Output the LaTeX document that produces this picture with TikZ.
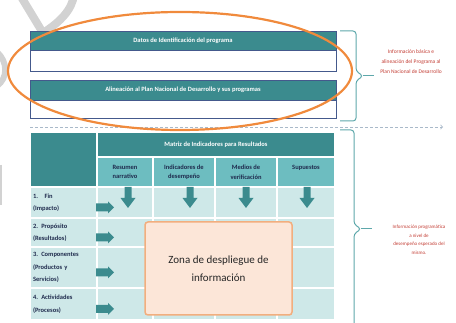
\documentclass[tikz,border=0pt]{standalone}
\usepackage{fontspec}
\setmainfont{Carlito}
\definecolor{tealdark}{HTML}{3B8B8E}
\definecolor{tealmid}{HTML}{6DBDC0}
\definecolor{teallight}{HTML}{CEE8E8}
\definecolor{navyline}{HTML}{44598C}
\definecolor{inktext}{HTML}{1F2B4D}
\definecolor{ringorange}{HTML}{F08A3C}
\definecolor{zonefill}{HTML}{FCE6D8}
\definecolor{zoneline}{HTML}{F2AE7E}
\definecolor{notered}{HTML}{C23B32}
\definecolor{bracecol}{HTML}{5EA8AB}
\definecolor{sepline}{HTML}{A9B9C9}
\definecolor{wmark}{HTML}{D2D2D2}

\begin{document}
\begin{tikzpicture}[x=1pt, y=-1pt,
    box/.style={anchor=north west, inner sep=0pt, outer sep=0pt},
    titlebar/.style={box, fill=tealdark, draw=navyline, line width=0.8pt, text=white, font=\bfseries\fontsize{6.5}{8}\selectfont},
    blank/.style={box, fill=white, draw=navyline, line width=0.8pt},
    cell/.style={box, fill=teallight, draw=white, line width=1.2pt},
    colhead/.style={box, fill=tealmid, draw=white, line width=1.2pt, text=inktext, align=center, font=\bfseries\fontsize{6.5}{9.5}\selectfont},
    rowlabel/.style={cell, text=inktext, align=left, text width=61pt, inner xsep=3pt, font=\bfseries\fontsize{6.5}{12.5}\selectfont},
    rblock/.pic={\fill[tealdark] (-9,-4) -- (3,-4) -- (3,-6) -- (9,0) -- (3,6) -- (3,4) -- (-9,4) -- cycle;},
    dblock/.pic={\fill[tealdark] (-3.5,-11) -- (3.5,-11) -- (3.5,0) -- (7.5,0) -- (0,10) -- (-7.5,0) -- (-3.5,0) -- cycle;},
    note/.style={text=notered, align=center},
    curly/.style={bracecol, line width=1pt, rounded corners=3pt}]
    \useasboundingbox (0,0) rectangle (456,323);
    % watermark remains
    \draw[wmark, line width=8pt] (20,-5) -- (43,33);
    \draw[wmark, line width=8pt] (43,33) .. controls (60,22) and (72,10) .. (74,-5);
    \draw[wmark, line width=6pt] (-3,52) .. controls (8,62) and (8,78) .. (-3,86);
    \draw[wmark, line width=1.5pt] (1,165) -- (1,205);
    % identification blocks
    \node[titlebar, minimum width=306pt, minimum height=19pt] (idbar) at (30,31) {Datos de Identificación del programa};
    \node[blank, minimum width=306pt, minimum height=21pt] (idbox) at (idbar.south west) {};
    \node[titlebar, minimum width=306pt, minimum height=20pt] (pndbar) at (30,80) {Alineación al Plan Nacional de Desarrollo y sus programas};
    \node[blank, minimum width=306pt, minimum height=18pt] (pndbox) at (pndbar.south west) {};
    \coordinate (sepL) at (30,127);
    \coordinate (sepR) at (443,127);
    \draw[sepline, densely dashed, line width=0.8pt, ->] (sepL) -- (sepR);
    % matrix of indicators
    \node[box, fill=tealdark, draw=white, line width=1.2pt, minimum width=67pt, minimum height=55pt] (corner) at (30,132) {};
    \node[titlebar, draw=white, line width=1.2pt, minimum width=238pt, minimum height=25pt] (mirbar) at (corner.north east) {Matriz de Indicadores para Resultados};
    \node[colhead, minimum width=56pt, minimum height=30pt] (col1) at (97,157) {Resumen\\narrativo};
    \node[colhead, minimum width=62pt, minimum height=30pt] (col2) at (col1.north east) {Indicadores de\\desempeño};
    \node[colhead, minimum width=62pt, minimum height=30pt] (col3) at (col2.north east) {Medios de\\verificación};
    \node[colhead, minimum width=58pt, minimum height=30pt] (col4) at (col3.north east) {Supuestos\\~};
    \foreach \r/\y/\h/\txt in {1/187/31/{1.\ \ \ Fin\\(Impacto)}, 2/218/29/{2. Propósito\\(Resultados)},
        3/247/41/{3. Componentes\\(Productos y\\Servicios)}, 4/288/32/{4. Actividades\\(Procesos)}}{
        \node[rowlabel, minimum height=\h pt] (lab\r) at (30,\y) {\txt};
        \foreach \c/\x/\w in {1/97/56, 2/153/62, 3/215/62, 4/277/58}
            \node[cell, minimum width=\w pt, minimum height=\h pt] (cell\r\c) at (\x,\y) {};
        \pic (go\r) at ([xshift=8pt, yshift=-5pt]lab\r.east) {rblock};
    }
    \foreach \c/\x in {1/128, 2/190, 3/246, 4/307}
        \pic (down\c) at (\x,198) {dblock};
    \node[box, fill=zonefill, draw=zoneline, line width=1.5pt, rounded corners=3pt, minimum width=147pt, minimum height=93pt,
        text=black!85, align=center, font=\fontsize{11}{18}\selectfont] (zona) at (145,222) {Zona de despliegue de\\información};
    % highlight ring
    \draw[ringorange, line width=2.2pt] (180,71) ellipse [x radius=172pt, y radius=59pt];
    % braces and side notes
    \coordinate (tipA) at (363,76);
    \draw[curly] (340,31) -- (356,31) -- (356,71) -- (tipA) -- (356,81) -- (356,121) -- (340,121);
    \draw[bracecol, line width=1pt] (tipA) -- ++(11,0);
    \node[note, font=\fontsize{5.5}{10}\selectfont] (noteA) at (411,62) {Información básica e\\alineación del Programa al\\Plan Nacional de Desarrollo};
    \coordinate (tipB) at (361,229);
    \draw[curly] (340,130) -- (354,130) -- (354,224) -- (tipB) -- (354,234) -- (354,330);
    \draw[bracecol, line width=1pt] (tipB) -- ++(11,0);
    \node[note, font=\fontsize{5}{8.5}\selectfont] (noteB) at (419,240) {Información programática\\a nivel de\\desempeño esperado del\\mismo.};
\end{tikzpicture}
\end{document}
